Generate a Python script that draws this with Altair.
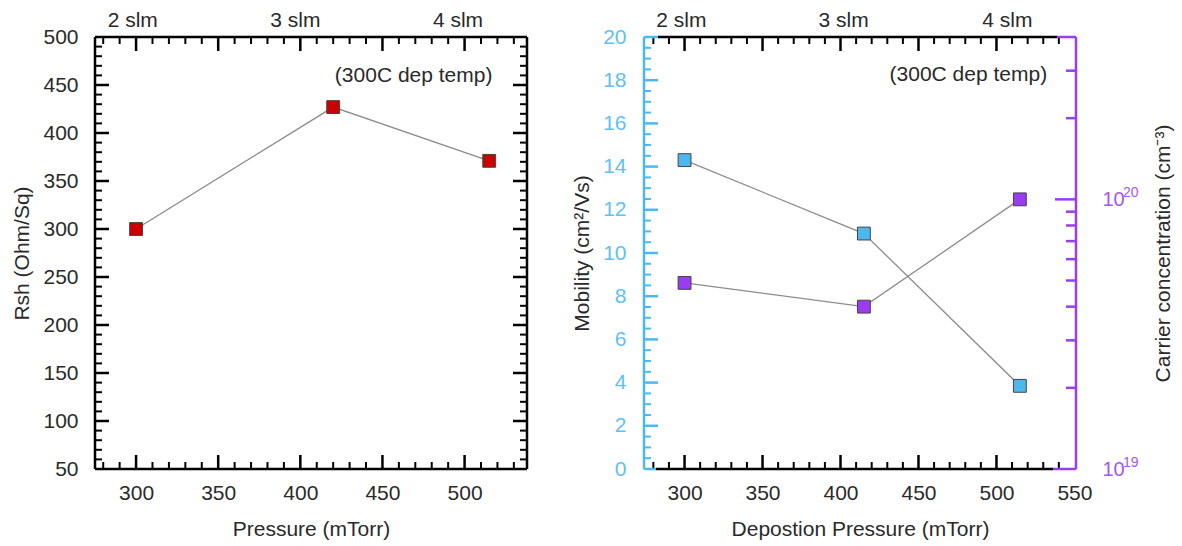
import altair as alt
import pandas as pd

# ---------------- data ----------------
rsh_pressure = [300, 420, 515]
rsh_values = [300, 427, 371]

hall_pressure = [300, 415, 515]
mobility = [14.3, 10.9, 3.85]
carrier = [4.9e19, 4.0e19, 1.0e20]

flow_labels = ["2 slm", "3 slm", "4 slm"]
flow_pos_left = [298, 397, 496]
flow_pos_right = [298, 402, 507]

note_text = "(300C dep temp)"

x_labels_left = [300, 350, 400, 450, 500]
x_labels_right = [300, 350, 400, 450, 500, 550]
x_major = [300, 350, 400, 450, 500]
x_minor_left = [v for v in range(280, 540, 10) if v % 50 != 0]
x_minor_right = [v for v in range(280, 550, 10) if v % 50 != 0]

rsh_labels = [50, 100, 150, 200, 250, 300, 350, 400, 450, 500]
rsh_major = [100, 150, 200, 250, 300, 350, 400, 450]
rsh_minor = [v for v in range(60, 500, 10) if v % 50 != 0]

mob_labels = [0, 2, 4, 6, 8, 10, 12, 14, 16, 18, 20]
mob_major = [2, 4, 6, 8, 10, 12, 14, 16, 18]
mob_minor = [v / 2 for v in range(1, 40) if v % 4 != 0]

car_labels = [1e19, 1e20]
car_exponents = ["19", "20"]
car_major = [1e20]
car_minor = [2e19, 3e19, 4e19, 5e19, 6e19, 7e19, 8e19, 9e19, 2e20, 3e20]

# ---------------- style ----------------
FONT = "Liberation Sans"
TXT = "#2a2a2a"
RED = "#cc0000"
BLUE = "#4db8f0"
BLUE_LBL = "#5ec1f2"
PURPLE = "#9a3cf0"
PURPLE_LBL = "#a457f2"
LINE = "#8c8c8c"
W = 432
H = 432
MAJ = 14
MIN = 7
FS = 21

one = pd.DataFrame({"a": [0]})


def xenc(field, dom, title, labels):
    return alt.X(
        f"{field}:Q",
        scale=alt.Scale(domain=dom, nice=False, zero=False),
        axis=alt.Axis(values=labels, title=title, format="d", labelPadding=13,
                      titlePadding=15, ticks=False, tickSize=0, domain=False,
                      grid=False, labelFlush=False),
    )


def yenc(field, scale, axis):
    return alt.Y(f"{field}:Q", scale=scale, axis=axis)


def frame(x1, x2, y1, y2, color):
    return alt.Chart(one).mark_rule(color=color, strokeWidth=2.5).encode(
        x=alt.value(x1), x2=alt.value(x2), y=alt.value(y1), y2=alt.value(y2))


def xticks(vals, X, length, sw):
    df = pd.DataFrame({"v": vals})
    bot = alt.Chart(df).mark_rule(color="black", strokeWidth=sw).encode(
        x=X("v"), y=alt.value(H), y2=alt.value(H - length))
    top = alt.Chart(df).mark_rule(color="black", strokeWidth=sw).encode(
        x=X("v"), y=alt.value(0), y2=alt.value(length))
    return [bot, top]


def yticks(vals, Y, color, x0, length, sw):
    df = pd.DataFrame({"v": vals})
    x2 = x0 + length if x0 == 0 else x0 - length
    return alt.Chart(df).mark_rule(color=color, strokeWidth=sw).encode(
        y=Y("v"), x=alt.value(x0), x2=alt.value(x2))


def top_labels(pos, X):
    df = pd.DataFrame({"v": pos, "t": flow_labels})
    return alt.Chart(df).mark_text(font=FONT, fontSize=FS, color=TXT,
                                   baseline="middle").encode(
        x=X("v"), y=alt.value(-16), text="t:N")


# ---------------- left panel ----------------
XL = lambda f: xenc(f, [275, 538], "Pressure (mTorr)", x_labels_left)
rsh_scale = alt.Scale(domain=[50, 500], nice=False, zero=False)
rsh_axis = alt.Axis(values=rsh_labels, title="Rsh (Ohm/Sq)", labelPadding=17,
                    titlePadding=10, ticks=False, tickSize=0, domain=False,
                    grid=False)
YR = lambda f: yenc(f, rsh_scale, rsh_axis)

df_rsh = pd.DataFrame({"p": rsh_pressure, "r": rsh_values})
rsh_line = alt.Chart(df_rsh).mark_line(color=LINE, strokeWidth=1.3).encode(
    x=XL("p"), y=YR("r"))
rsh_pts = alt.Chart(df_rsh).mark_square(size=165, fill=RED, stroke="#444444",
                                        strokeWidth=1, opacity=1).encode(
    x=XL("p"), y=YR("r"))
note_left = alt.Chart(pd.DataFrame({"x": [469], "y": [459], "t": [note_text]})).mark_text(
    font=FONT, fontSize=FS, color=TXT, baseline="middle").encode(
    x=XL("x"), y=YR("y"), text="t:N")

left_layers = []
left_layers += xticks(x_major, XL, MAJ, 2.5)
left_layers += xticks(x_minor_left, XL, MIN, 2)
left_layers += [
    yticks(rsh_major, YR, "black", 0, MAJ, 2.5),
    yticks(rsh_minor, YR, "black", 0, MIN, 2),
    yticks(rsh_major, YR, "black", W, MAJ, 2.5),
    yticks(rsh_minor, YR, "black", W, MIN, 2),
    frame(0, W, 0, 0, "black"),
    frame(0, W, H, H, "black"),
    frame(0, 0, 0, H, "black"),
    frame(W, W, 0, H, "black"),
    top_labels(flow_pos_left, XL),
    rsh_line, rsh_pts, note_left,
]
left = alt.layer(*left_layers).properties(width=W, height=H)

# ---------------- right panel ----------------
XR = lambda f: xenc(f, [274, 551], "Depostion Pressure (mTorr)", x_labels_right)
mob_scale = alt.Scale(domain=[0, 20], nice=False, zero=False)
mob_axis = alt.Axis(values=mob_labels, title="Mobility (cm²/Vs)", orient="left",
                    labelColor=BLUE_LBL, labelPadding=18, titlePadding=10,
                    ticks=False, tickSize=0, domain=False, grid=False)
YM = lambda f: yenc(f, mob_scale, mob_axis)

car_scale = alt.Scale(type="log", domain=[1e19, 4e20], nice=False)
car_axis = alt.Axis(values=car_labels, title="Carrier concentration (cm⁻³)",
                    orient="right", labelColor=PURPLE_LBL, labelPadding=26,
                    labelFontSize=20, labelExpr="'10'",
                    titleAngle=270, titleBaseline="top", titlePadding=28,
                    ticks=False, tickSize=0, domain=False, grid=False)
YC = lambda f: yenc(f, car_scale, car_axis)

df_hall = pd.DataFrame({"p": hall_pressure, "m": mobility, "c": carrier})

mob_line = alt.Chart(df_hall).mark_line(color=LINE, strokeWidth=1.3).encode(
    x=XR("p"), y=YM("m"))
mob_pts = alt.Chart(df_hall).mark_square(size=165, fill=BLUE, stroke="#444444",
                                         strokeWidth=1, opacity=1).encode(
    x=XR("p"), y=YM("m"))
note_right = alt.Chart(pd.DataFrame({"x": [482], "y": [18.24], "t": [note_text]})).mark_text(
    font=FONT, fontSize=FS, color=TXT, baseline="middle").encode(
    x=XR("x"), y=YM("y"), text="t:N")
mob_group = alt.layer(
    yticks(mob_major, YM, BLUE, 0, MAJ, 2.5),
    yticks(mob_minor, YM, BLUE, 0, MIN, 2),
    mob_line, mob_pts, note_right,
)

car_line = alt.Chart(df_hall).mark_line(color=LINE, strokeWidth=1.3).encode(
    x=XR("p"), y=YC("c"))
car_pts = alt.Chart(df_hall).mark_square(size=165, fill=PURPLE, stroke="#444444",
                                         strokeWidth=1, opacity=1).encode(
    x=XR("p"), y=YC("c"))
car_exp = alt.Chart(pd.DataFrame({"v": car_labels, "e": car_exponents})).mark_text(
    font=FONT, fontSize=14, color=PURPLE_LBL, align="left", baseline="middle",
    dy=-6).encode(y=YC("v"), x=alt.value(W + 47), text="e:N")
car_group = alt.layer(
    yticks(car_major, YC, PURPLE, W, 21, 2.5),
    yticks(car_minor, YC, PURPLE, W, 10, 2.5),
    car_line, car_pts, car_exp,
)

right_layers = []
right_layers += xticks(x_major, XR, MAJ, 2.5)
right_layers += xticks(x_minor_right, XR, MIN, 2)
right_layers += [
    frame(14, 413, 0, 0, "black"),
    frame(12, 409, H, H, "black"),
    frame(0, 14, 0, 0, BLUE),
    frame(0, 12, H, H, BLUE),
    frame(413, W, 0, 0, PURPLE),
    frame(409, W, H, H, PURPLE),
    frame(0, 0, 0, H, BLUE),
    frame(W, W, 0, H, PURPLE),
    top_labels(flow_pos_right, XR),
    mob_group, car_group,
]
right = alt.layer(*right_layers).resolve_scale(y="independent").properties(
    width=W, height=H)

chart = alt.hconcat(left, right, spacing=42).properties(
    padding={"left": 11, "top": 10, "right": 5, "bottom": 2},
    background="white",
).configure_view(stroke=None).configure_axis(
    labelFont=FONT, titleFont=FONT, labelFontSize=FS, titleFontSize=FS,
    labelColor=TXT, titleColor=TXT, titleFontWeight="normal",
)

chart.save("out.html", embed_options={"renderer": "svg", "actions": False})
